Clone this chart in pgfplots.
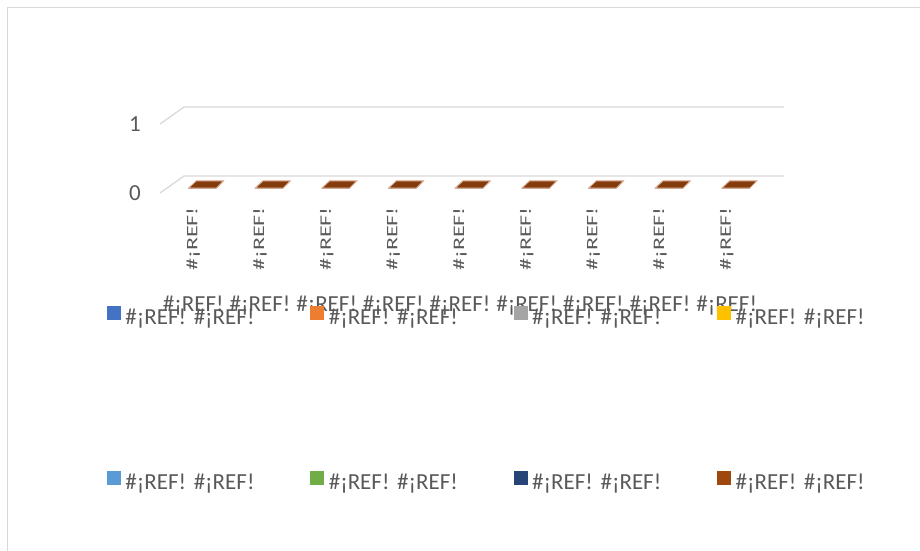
\documentclass[border=0pt]{standalone}
\usepackage{fontspec}
\setmainfont{Carlito}
\newfontfamily\widefont[FakeStretch=1.5]{Carlito}
\usepackage{pgfplots}
\usepackage{pgfplotstable}
\pgfplotsset{compat=1.18}
\definecolor{txt}{HTML}{595959}
\definecolor{gridc}{HTML}{D9D9D9}
\definecolor{c1}{HTML}{4472C4}
\definecolor{c2}{HTML}{ED7D31}
\definecolor{c3}{HTML}{A5A5A5}
\definecolor{c4}{HTML}{FFC000}
\definecolor{c5}{HTML}{5B9BD5}
\definecolor{c6}{HTML}{70AD47}
\definecolor{c7}{HTML}{264478}
\definecolor{c8}{HTML}{9E480E}
\definecolor{top8}{HTML}{843C0C}
\definecolor{edge}{HTML}{E2BBA6}
\pgfdeclareplotmark{para}{%
  \pgfpathmoveto{\pgfpoint{-4.5pt}{5pt}}%
  \pgfpathlineto{\pgfpoint{23pt}{5pt}}%
  \pgfpathlineto{\pgfpoint{30pt}{12pt}}%
  \pgfpathlineto{\pgfpoint{3pt}{12pt}}%
  \pgfpathclose
  \pgfusepathqfillstroke}
\pgfplotstableread{
x s1 s2 s3 s4 s5 s6 s7 s8
0.5 0 0 0 0 0 0 0 0
1.5 0 0 0 0 0 0 0 0
2.5 0 0 0 0 0 0 0 0
3.5 0 0 0 0 0 0 0 0
4.5 0 0 0 0 0 0 0 0
5.5 0 0 0 0 0 0 0 0
6.5 0 0 0 0 0 0 0 0
7.5 0 0 0 0 0 0 0 0
8.5 0 0 0 0 0 0 0 0
}\zerodata
\begin{document}
\begin{tikzpicture}[x=1pt,y=1pt]
\useasboundingbox (0,0) rectangle (920,550);
\draw[gridc, line width=1.3pt] (7.5,542.5) rectangle (935,-15);
\begin{axis}[
  at={(160pt,357pt)}, anchor=south west,
  scale only axis, width=600pt, height=69pt,
  xmin=0, xmax=9, ymin=0, ymax=1, clip=false,
  axis line style={draw=none}, major tick length=0pt,
  xtick={0.5,1.5,2.5,3.5,4.5,5.5,6.5,7.5,8.5},
  xticklabels={\#¡REF!,\#¡REF!,\#¡REF!,\#¡REF!,\#¡REF!,\#¡REF!,\#¡REF!,\#¡REF!,\#¡REF!},
  xticklabel style={rotate=90, anchor=east, inner sep=0pt, text=txt, font=\widefont\fontsize{16}{18}\selectfont},
  xticklabel shift=14pt,
  ytick={0,1}, yticklabels={0,1},
  yticklabel style={anchor=east, inner sep=0pt, xshift=-19pt, text=txt, font=\fontsize{23}{27}\selectfont},
  legend columns=4,
  legend cell align=left,
  legend style={at={(-0.088333,-1.63768)}, anchor=north west, draw=none, fill=none,
    inner sep=0pt, outer sep=0pt, row sep=141pt, column sep=0pt,
    font=\fontsize{23}{27}\selectfont, text=txt,
    nodes={inner sep=0pt, text height=16pt, text depth=5pt, text width=185pt, align=left}},
]
\addplot[gridc, line width=1.3pt, forget plot] coordinates {(0,0) (0.36,0.2464) (9.36,0.2464)};
\addplot[gridc, line width=1.3pt, forget plot] coordinates {(0,1) (0.36,1.2464) (9.36,1.2464)};
\addplot[only marks, mark=para, mark options={fill=c1, draw=edge, line width=0.6pt},
  legend image code/.code={\fill[c1] (0pt,0pt) rectangle (13pt,13pt); \path (18pt,0pt);}] table[x=x,y=s1] {\zerodata};
\addlegendentry{\#¡REF! \#¡REF!}
\addplot[only marks, mark=para, mark options={fill=c2, draw=edge, line width=0.6pt},
  legend image code/.code={\fill[c2] (0pt,0pt) rectangle (13pt,13pt); \path (18pt,0pt);}] table[x=x,y=s2] {\zerodata};
\addlegendentry{\#¡REF! \#¡REF!}
\addplot[only marks, mark=para, mark options={fill=c3, draw=edge, line width=0.6pt},
  legend image code/.code={\fill[c3] (0pt,0pt) rectangle (13pt,13pt); \path (18pt,0pt);}] table[x=x,y=s3] {\zerodata};
\addlegendentry{\#¡REF! \#¡REF!}
\addplot[only marks, mark=para, mark options={fill=c4, draw=edge, line width=0.6pt},
  legend image code/.code={\fill[c4] (0pt,0pt) rectangle (13pt,13pt); \path (18pt,0pt);}] table[x=x,y=s4] {\zerodata};
\addlegendentry{\#¡REF! \#¡REF!}
\addplot[only marks, mark=para, mark options={fill=c5, draw=edge, line width=0.6pt},
  legend image code/.code={\fill[c5] (0pt,0pt) rectangle (13pt,13pt); \path (18pt,0pt);}] table[x=x,y=s5] {\zerodata};
\addlegendentry{\#¡REF! \#¡REF!}
\addplot[only marks, mark=para, mark options={fill=c6, draw=edge, line width=0.6pt},
  legend image code/.code={\fill[c6] (0pt,0pt) rectangle (13pt,13pt); \path (18pt,0pt);}] table[x=x,y=s6] {\zerodata};
\addlegendentry{\#¡REF! \#¡REF!}
\addplot[only marks, mark=para, mark options={fill=c7, draw=edge, line width=0.6pt},
  legend image code/.code={\fill[c7] (0pt,0pt) rectangle (13pt,13pt); \path (18pt,0pt);}] table[x=x,y=s7] {\zerodata};
\addlegendentry{\#¡REF! \#¡REF!}
\addplot[only marks, mark=para, mark options={fill=top8, draw=edge, line width=0.6pt},
  legend image code/.code={\fill[c8] (0pt,0pt) rectangle (13pt,13pt); \path (18pt,0pt);}] table[x=x,y=s8] {\zerodata};
\addlegendentry{\#¡REF! \#¡REF!}
\pgfplotsinvokeforeach{0,1,2,3,4,5,6,7,8}{
  \node[font=\fontsize{23}{27}\selectfont, text=txt, anchor=base, inner sep=0pt] at ([yshift=-118pt]axis cs:#1.5,0) {\#¡REF!};
}
\end{axis}
\end{tikzpicture}
\end{document}
